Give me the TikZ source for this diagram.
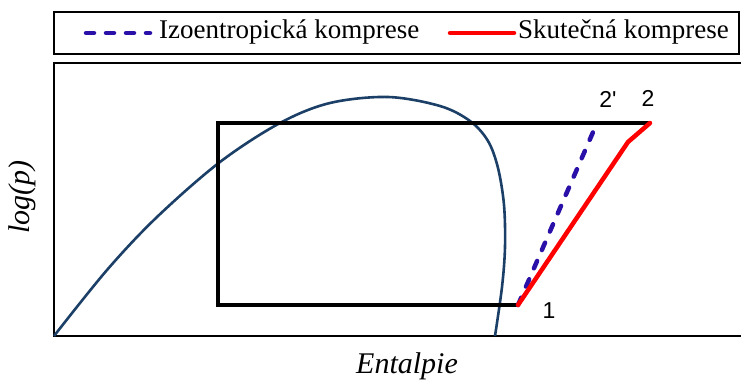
\documentclass[tikz,border=0pt]{standalone}
\usepackage{fontspec}
\setmainfont{Liberation Serif}
\newfontfamily\numfont{Liberation Sans}
\usetikzlibrary{positioning}

\definecolor{isoblue}{HTML}{2A10A8}
\definecolor{satblue}{HTML}{1B3F66}

\begin{document}
\begin{tikzpicture}[
  x=1pt, y=-1pt,
  frame/.style={draw=black, line width=2pt},
  cycle/.style={draw=black, line width=3.5pt, line join=miter},
  real/.style={draw=red, line width=4.5pt, line cap=round, line join=round},
  isen/.style={draw=isoblue, line width=4.5pt, line cap=round, dash pattern=on 8pt off 12pt},
  satcurve/.style={draw=satblue, line width=2.6pt},
  legtext/.style={anchor=west, inner sep=0pt, font=\fontsize{27}{30}\selectfont},
  axtext/.style={inner sep=0pt, font=\fontsize{30}{34}\selectfont\itshape},
  pnum/.style={inner sep=0pt, font=\numfont\fontsize{23}{26}\selectfont}
]
\useasboundingbox (0,0) rectangle (741,382);

% legend
\node[draw=black, line width=2pt, minimum width=685pt, minimum height=42pt, inner sep=0pt] (legend) at (396.5,33) {};
\coordinate (isoa) at (86,33);
\coordinate (isob) at (150,33);
\coordinate (reala) at (450,33);
\coordinate (realb) at (514,33);
\draw[isen] (isoa) -- (isob);
\draw[real] (reala) -- (realb);
\node[legtext] (isolab) at (159,32) {Izoentropická komprese};
\node[legtext] (reallab) at (518,32) {Skutečná komprese};

% plot frame (open on the right)
\coordinate (ftop) at (741,63);
\coordinate (forig) at (54,336);
\coordinate (fright) at (741,336);
\draw[frame] (ftop) -- (54,63) -- (forig) -- (fright);

% saturation dome
\draw[satcurve] plot[smooth, tension=0.55] coordinates {
  (54,336) (107,270) (157,217) (220,162) (280,123) (330,103) (388,97)
  (440,106) (470,121) (488,141) (498,168) (504,205) (505,247) (502,287) (495,336)};

% cycle
\coordinate (p1) at (518,305);
\coordinate (p2) at (650,123);
\coordinate (p2s) at (597,123);
\coordinate (ptl) at (218,123);
\coordinate (pbl) at (218,305);
\coordinate (pbend) at (628,142);
\draw[cycle] (p2) -- (ptl) -- (pbl) -- (p1);
\draw[isen] (p1) -- (p2s);
\draw[real] (p1) -- (pbend) -- (p2);

% point labels
\node[pnum] (n1) at (549,311) {1};
\node[pnum] (n2s) at (608,99) {2'};
\node[pnum] (n2) at (648,98) {2};

% axis labels
\node[axtext] (xlab) at (407,366) {Entalpie};
\node[axtext, rotate=90] (ylab) at (22,197) {log(p)};
\end{tikzpicture}
\end{document}
